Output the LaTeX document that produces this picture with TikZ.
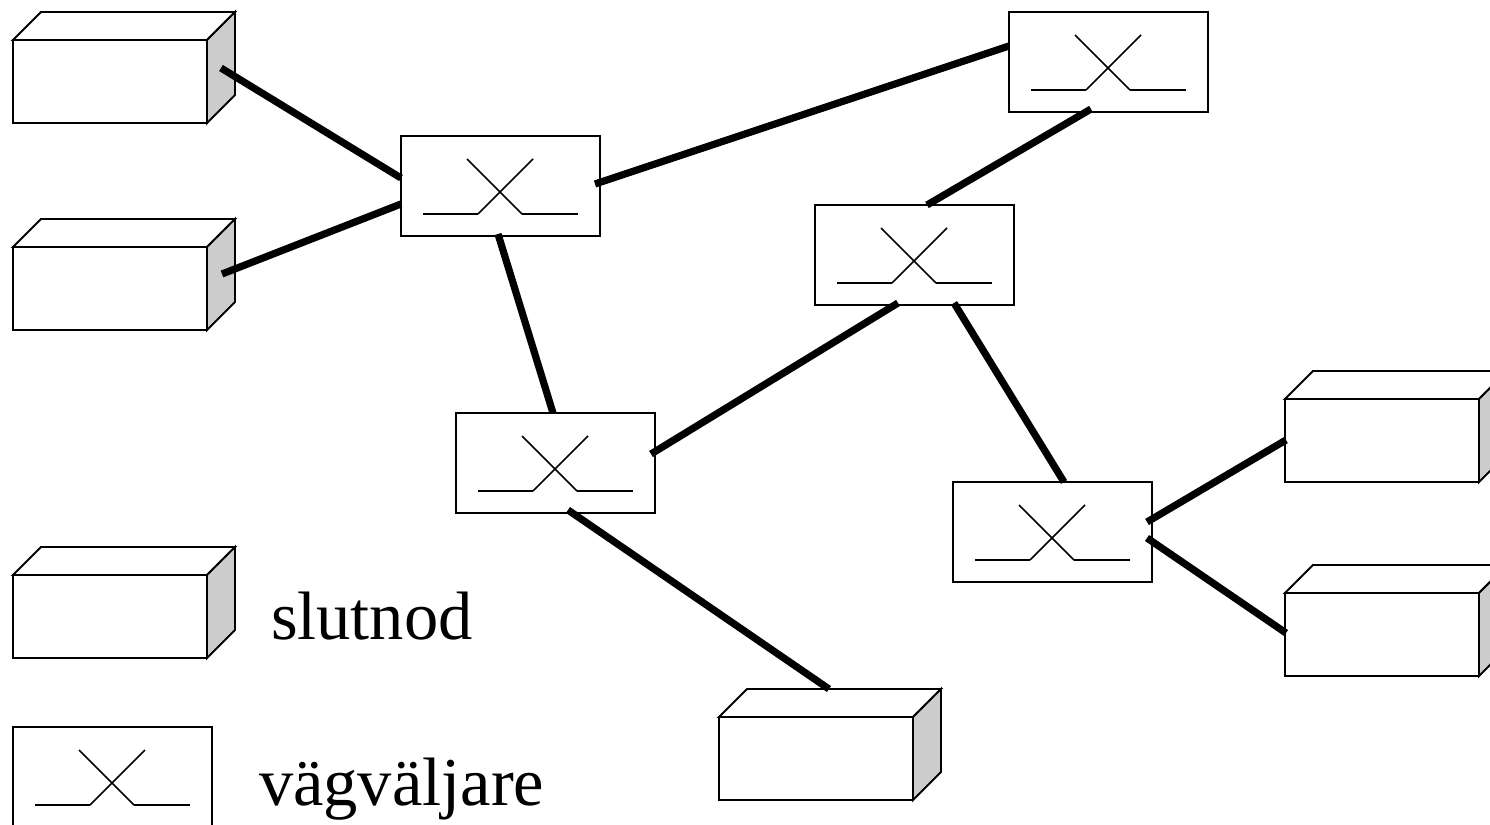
\documentclass[tikz,border=0pt]{standalone}
\usepackage{fontspec}
\setmainfont{Liberation Serif}
\usetikzlibrary{calc}
\definecolor{sidegray}{HTML}{CCCCCC}
\tikzset{
  thinline/.style={draw=black,line width=1.9pt,line join=miter},
  frontface/.style={thinline,fill=white,rectangle,inner sep=0pt,outer sep=0pt,minimum width=194pt,minimum height=83pt,anchor=north west},
  routerbox/.style={thinline,fill=white,rectangle,inner sep=0pt,outer sep=0pt,minimum width=199pt,minimum height=100pt,anchor=north west},
  wire/.style={draw=black,line width=7.2pt,line cap=butt},
  crossthin/.style={draw=black,line width=1.7pt},
  crossthick/.style={draw=black,line width=2.6pt},
  legendtext/.style={inner sep=0pt,outer sep=0pt,anchor=base west,font=\fontsize{68.5}{68.5}\selectfont}
}
\newcommand{\slutbox}[3]{%
  \node[frontface] (#1) at (#2,#3) {};
  \draw[thinline,fill=white] (#1.north west) -- ++(28,-28) -- ++(194,0) -- ++(-28,28) -- cycle;
  \draw[thinline,fill=sidegray] (#1.north east) -- ++(28,-28) -- ++(0,83) -- (#1.south east) -- cycle;
}
\newcommand{\router}[3]{%
  \node[routerbox] (#1) at (#2,#3) {};
  \draw[crossthin] ($(#1.north west)+(77,78)$) -- ($(#1.north west)+(132,23)$);
  \draw[crossthin] ($(#1.north west)+(66,23)$) -- ($(#1.north west)+(121,78)$);
  \draw[crossthick] ($(#1.north west)+(22,78)$) -- ($(#1.north west)+(77,78)$);
  \draw[crossthick] ($(#1.north west)+(121,78)$) -- ($(#1.north west)+(177,78)$);
}
\newcommand{\wirelink}[6]{%
  \draw[wire] ($(#1.north west)+(#2,#3)$) -- ($(#4.north west)+(#5,#6)$);
}
\begin{document}
\begin{tikzpicture}[x=1pt,y=-1pt]
\useasboundingbox (0,0) rectangle (1490,824);
\clip (0,0) rectangle (1490,824);
\fill[white] (0,0) rectangle (1490,824);
\slutbox{ea}{13}{40}
\slutbox{eb}{13}{247}
\slutbox{ec}{13}{575}
\slutbox{ed}{719}{717}
\slutbox{ee}{1285}{399}
\slutbox{ef}{1285}{593}
\router{ra}{401}{136}
\router{rb}{1009}{12}
\router{rc}{815}{205}
\router{rd}{456}{413}
\router{re}{953}{482}
\router{rf}{13}{727}
\wirelink{ea}{208}{28}{ra}{0}{42}
\wirelink{eb}{209}{27}{ra}{0}{68}
\wirelink{ra}{194}{48}{rb}{0}{34}
\wirelink{ra}{97}{98}{rd}{97}{0}
\wirelink{rd}{195}{41}{rc}{83}{98}
\wirelink{rb}{82}{97}{rc}{112}{0}
\wirelink{rc}{139}{98}{re}{111}{0}
\wirelink{re}{194}{40}{ee}{1}{41}
\wirelink{re}{194}{56}{ef}{1}{40}
\wirelink{rd}{112}{97}{ed}{110}{-28}
\node[legendtext] (lslut) at (271,639) {slutnod};
\node[legendtext] (lvag) at (259,805) {vägväljare};
\end{tikzpicture}
\end{document}
